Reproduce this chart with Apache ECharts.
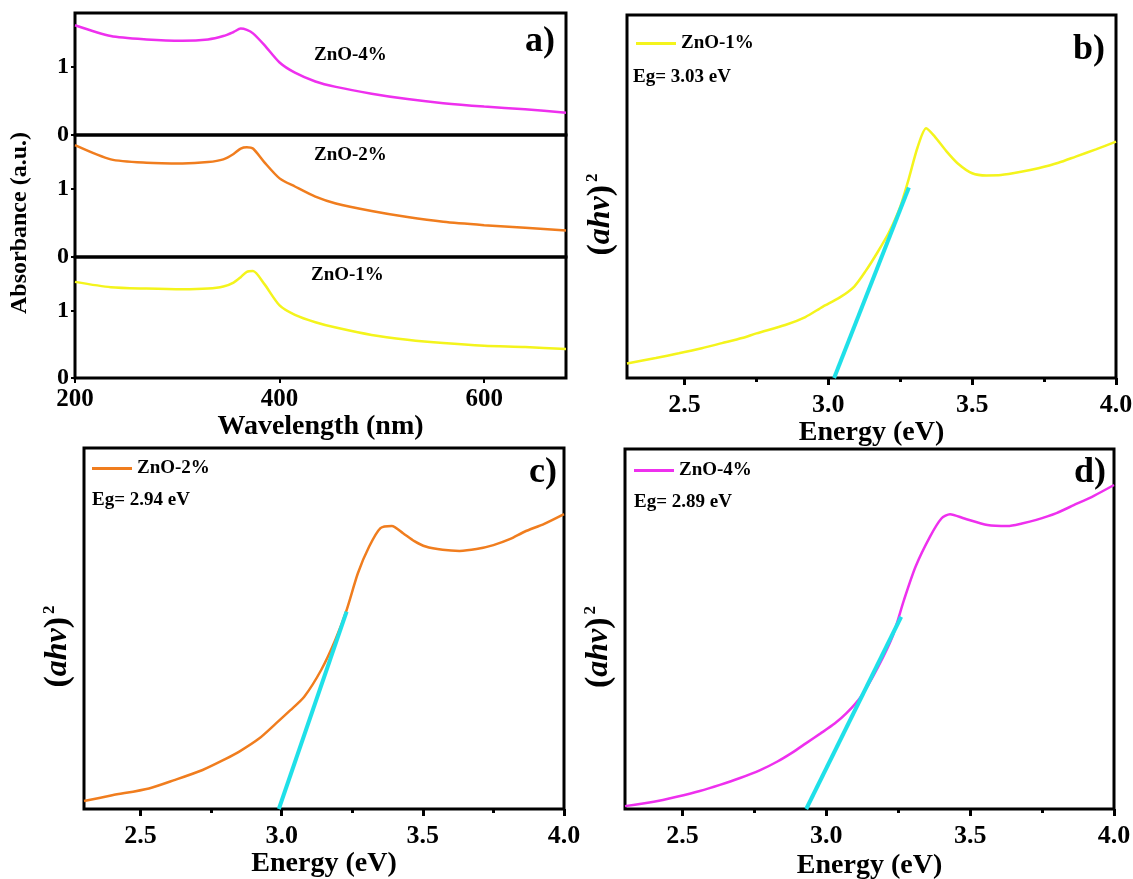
<!DOCTYPE html>
<html>
<head>
<meta charset="utf-8">
<title>ZnO absorbance / Tauc plots</title>
<script src="https://cdn.jsdelivr.net/npm/echarts@6/dist/echarts.min.js"></script>
<style>
html,body{margin:0;padding:0;background:#fff;}
#chartDiv{width:1133px;height:879px;}
</style>
</head>
<body>
<div id="chartDiv"></div>
<script>
// 吸收光谱 (panel a)
var wavelength = [200, 235, 270, 305, 330, 345, 355, 362, 368, 374, 385, 400, 415, 435, 455, 490, 525, 560, 600, 640, 680];
var abs4 = [1.62, 1.46, 1.41, 1.39, 1.41, 1.46, 1.52, 1.57, 1.55, 1.50, 1.33, 1.07, 0.92, 0.79, 0.71, 0.61, 0.53, 0.47, 0.42, 0.38, 0.33];
var abs2 = [1.65, 1.44, 1.39, 1.38, 1.40, 1.44, 1.52, 1.60, 1.62, 1.60, 1.40, 1.16, 1.04, 0.89, 0.79, 0.68, 0.59, 0.52, 0.47, 0.43, 0.39];
var abs1 = [1.43, 1.35, 1.33, 1.32, 1.33, 1.36, 1.42, 1.50, 1.58, 1.59, 1.40, 1.08, 0.94, 0.83, 0.75, 0.64, 0.57, 0.52, 0.48, 0.46, 0.43];
var wlTicks = [200, 400, 600];
var absTicks = [0, 1];

// Tauc 曲线 (panels b, c, d)
var energy1 = [2.30, 2.40, 2.48, 2.56, 2.63, 2.70, 2.75, 2.85, 2.92, 2.98, 3.04, 3.09, 3.13, 3.17, 3.21, 3.25, 3.28, 3.31, 3.34, 3.37, 3.41, 3.45, 3.50, 3.55, 3.60, 3.67, 3.73, 3.80, 3.86, 3.93, 4.00];
var tauc1 = [4.0, 5.5, 6.8, 8.2, 9.6, 11.0, 12.3, 14.6, 16.8, 19.6, 22.2, 25.2, 29.5, 34.5, 40.0, 47.2, 55.0, 63.5, 68.8, 66.5, 62.5, 59.1, 56.4, 55.8, 55.9, 56.8, 57.8, 59.3, 61.0, 63.0, 65.1];
var energy2 = [2.30, 2.40, 2.53, 2.62, 2.72, 2.80, 2.85, 2.92, 2.98, 3.03, 3.08, 3.14, 3.19, 3.23, 3.27, 3.31, 3.35, 3.39, 3.43, 3.47, 3.51, 3.57, 3.63, 3.69, 3.75, 3.81, 3.86, 3.93, 4.00];
var tauc2 = [2.2, 3.8, 5.7, 8.0, 10.8, 13.8, 15.9, 19.5, 23.7, 27.3, 31.1, 38.5, 46.8, 55.1, 65.3, 72.7, 77.8, 78.4, 76.4, 74.2, 72.7, 71.8, 71.5, 72.0, 73.1, 74.8, 76.8, 79.0, 81.7];
var energy4 = [2.30, 2.40, 2.48, 2.56, 2.63, 2.70, 2.77, 2.83, 2.88, 2.93, 2.98, 3.03, 3.07, 3.12, 3.18, 3.23, 3.27, 3.31, 3.36, 3.40, 3.43, 3.48, 3.56, 3.63, 3.68, 3.73, 3.80, 3.86, 3.93, 4.00];
var tauc4 = [0.8, 2.0, 3.4, 5.0, 6.7, 8.6, 10.8, 13.2, 15.6, 18.3, 21.0, 23.8, 26.6, 31.2, 39.5, 47.9, 58.1, 67.3, 75.6, 80.7, 81.9, 80.7, 78.9, 78.6, 79.3, 80.3, 82.2, 84.4, 87.0, 90.0];
// 切线 (Eg)
var fitEnergy1 = [3.02, 3.28];
var fitTauc1 = [0, 52.5];
var fitEnergy2 = [2.99, 3.23];
var fitTauc2 = [0, 54.7];
var fitEnergy4 = [2.93, 3.26];
var fitTauc4 = [0, 53.4];
var energyTicks = [2.5, 3.0, 3.5, 4.0];
var energyMinorTicks = [2.75, 3.25, 3.75];

var FONT = '"Liberation Serif", "Times New Roman", serif';
var YELLOW = '#f4f41c', ORANGE = '#f07d1e', MAGENTA = '#ee30ee', CYAN = '#1fe0e8';

function pairs(xs, ys){
	var arr = [];
	for (var i = 0; i < xs.length; i++) {
		arr.push([xs[i], ys[i]]);
	}
	return arr;
}

function gridBox(left, top, width, height){
	return {left: left, top: top, width: width, height: height, show: true,
		borderColor: '#000', borderWidth: 3, backgroundColor: 'transparent', outerBoundsMode: 'none'};
}

//波长轴
function wlAxis(gridIndex, showLabel){
	return {
		type: 'value', gridIndex: gridIndex, min: 200, max: 680,
		axisLine: {show: false}, splitLine: {show: false},
		axisTick: {show: showLabel, customValues: wlTicks, length: 5, lineStyle: {color: '#000', width: 2}},
		axisLabel: {show: showLabel, customValues: wlTicks, margin: 9, color: '#000',
			fontFamily: FONT, fontWeight: 'bold', fontSize: 25},
		name: showLabel ? 'Wavelength (nm)' : '', nameLocation: 'middle', nameGap: 34,
		nameTextStyle: {color: '#000', fontFamily: FONT, fontWeight: 'bold', fontSize: 28}
	};
}

function absAxis(gridIndex){
	return {
		type: 'value', gridIndex: gridIndex, min: 0, max: 1.8,
		axisLine: {show: false}, splitLine: {show: false},
		axisTick: {customValues: absTicks, length: 4, lineStyle: {color: '#000', width: 2}},
		axisLabel: {customValues: absTicks, margin: 6, color: '#000',
			fontFamily: FONT, fontWeight: 'bold', fontSize: 24}
	};
}

//能量轴
function energyAxis(gridIndex, nameGap){
	return {
		type: 'value', gridIndex: gridIndex, min: 2.3, max: 4.0, position: 'bottom',
		axisLine: {show: false}, splitLine: {show: false},
		axisTick: {customValues: energyTicks, length: 7, lineStyle: {color: '#000', width: 3}},
		axisLabel: {customValues: energyTicks, margin: 14, color: '#000',
			fontFamily: FONT, fontWeight: 'bold', fontSize: 26,
			formatter: function(v){ return v.toFixed(1); }},
		name: 'Energy (eV)', nameLocation: 'middle', nameGap: nameGap,
		nameTextStyle: {color: '#000', fontFamily: FONT, fontWeight: 'bold', fontSize: 28}
	};
}

function minorAxis(gridIndex){
	return {
		type: 'value', gridIndex: gridIndex, min: 2.3, max: 4.0, position: 'bottom',
		axisLine: {show: false}, splitLine: {show: false},
		axisTick: {customValues: energyMinorTicks, length: 4, lineStyle: {color: '#000', width: 3}},
		axisLabel: {show: false}
	};
}

function taucAxis(gridIndex){
	return {
		type: 'value', gridIndex: gridIndex, min: 0, max: 100,
		axisLine: {show: false}, splitLine: {show: false},
		axisTick: {show: false}, axisLabel: {show: false},
		name: '{p|(}{i|ahv}{p|)}{s|2}', nameLocation: 'middle', nameRotate: 90, nameGap: 9,
		nameTextStyle: {
			color: '#000',
			padding: [0, 36, 0, 0],
			rich: {
				p: {fontFamily: FONT, fontWeight: 'bold', fontSize: 34, color: '#000'},
				i: {fontFamily: FONT, fontWeight: 'bold', fontStyle: 'italic', fontSize: 32, color: '#000'},
				s: {fontFamily: FONT, fontWeight: 'bold', fontSize: 17, color: '#000', verticalAlign: 'top', padding: [0, 0, 0, 3]}
			}
		}
	};
}

function curve(name, xIndex, yIndex, xs, ys, color){
	return {
		name: name, type: 'line', xAxisIndex: xIndex, yAxisIndex: yIndex,
		data: pairs(xs, ys), showSymbol: false, smooth: 0.25,
		lineStyle: {color: color, width: 2.5}, itemStyle: {color: color}, z: 3
	};
}

function fitLine(xIndex, yIndex, xs, ys){
	return {
		name: 'fit', type: 'line', xAxisIndex: xIndex, yAxisIndex: yIndex,
		data: pairs(xs, ys), showSymbol: false,
		lineStyle: {color: CYAN, width: 4}, itemStyle: {color: CYAN}, z: 4
	};
}

function legendAt(name, left, top){
	return {
		data: [name], left: left, top: top, padding: 0, icon: 'rect',
		itemWidth: 40, itemHeight: 3, selectedMode: false,
		textStyle: {color: '#000', fontFamily: FONT, fontWeight: 'bold', fontSize: 19}
	};
}

function label(text, x, y, size){
	return {
		type: 'text', x: x, y: y, z: 10,
		style: {text: text, fill: '#000', font: 'bold ' + size + 'px ' + FONT, verticalAlign: 'middle'}
	};
}

function showChart(){
	var myChart = echarts.init(document.getElementById('chartDiv'));
	option = {
		backgroundColor: '#fff',
		animation: false,
		grid: [
			gridBox(75, 13, 491, 122),
			gridBox(75, 135, 491, 122),
			gridBox(75, 257, 491, 121),
			gridBox(627, 15, 489, 363),
			gridBox(84, 448, 480, 361),
			gridBox(625, 449, 489, 360)
		],
		xAxis: [
			wlAxis(0, false), wlAxis(1, false), wlAxis(2, true),
			energyAxis(3, 38), energyAxis(4, 37), energyAxis(5, 43),
			minorAxis(3), minorAxis(4), minorAxis(5)
		],
		yAxis: [
			absAxis(0), absAxis(1), absAxis(2),
			taucAxis(3), taucAxis(4), taucAxis(5)
		],
		legend: [
			legendAt('ZnO-1%', 636, 34),
			legendAt('ZnO-2%', 92, 459),
			legendAt('ZnO-4%', 634, 461)
		],
		graphic: [
			label('ZnO-4%', 314, 55, 19),
			label('ZnO-2%', 314, 155, 19),
			label('ZnO-1%', 311, 275, 19),
			label('a)', 525, 42, 36),
			label('b)', 1073, 50, 36),
			label('c)', 529, 473, 36),
			label('d)', 1074, 473, 36),
			label('Eg= 3.03 eV', 633, 77, 19),
			label('Eg= 2.94 eV', 92, 500, 19),
			label('Eg= 2.89 eV', 634, 502, 19),
			{
				type: 'text', x: 20, y: 223, rotation: Math.PI / 2, z: 10,
				style: {text: 'Absorbance (a.u.)', fill: '#000', font: 'bold 24px ' + FONT,
					align: 'center', verticalAlign: 'middle'}
			}
		],
		series: [
			curve('ZnO-4%', 0, 0, wavelength, abs4, MAGENTA),
			curve('ZnO-2%', 1, 1, wavelength, abs2, ORANGE),
			curve('ZnO-1%', 2, 2, wavelength, abs1, YELLOW),
			curve('ZnO-1%', 3, 3, energy1, tauc1, YELLOW),
			curve('ZnO-2%', 4, 4, energy2, tauc2, ORANGE),
			curve('ZnO-4%', 5, 5, energy4, tauc4, MAGENTA),
			fitLine(3, 3, fitEnergy1, fitTauc1),
			fitLine(4, 4, fitEnergy2, fitTauc2),
			fitLine(5, 5, fitEnergy4, fitTauc4)
		]
	};
	myChart.setOption(option);
}

showChart();
</script>
</body>
</html>
